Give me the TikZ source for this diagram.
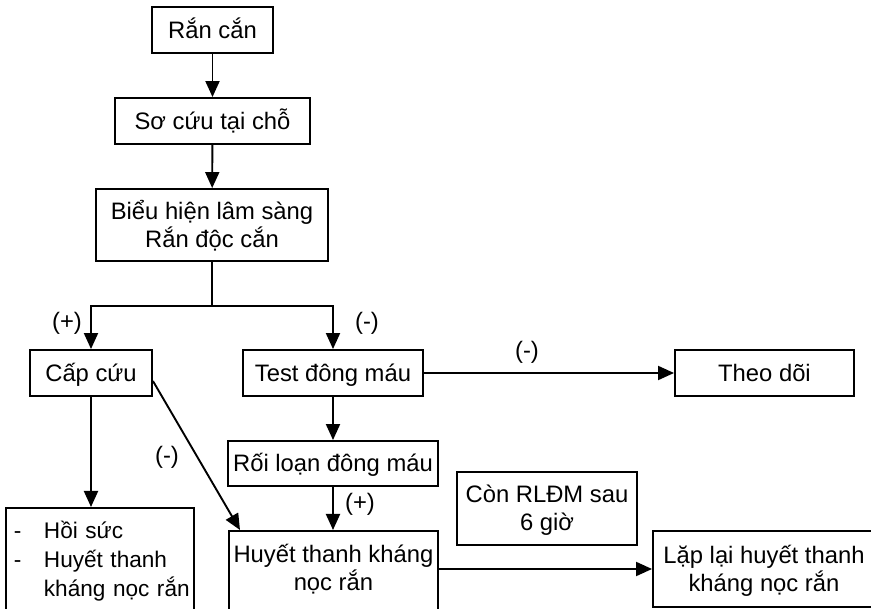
\documentclass[tikz,border=0pt]{standalone}
\usepackage{fontspec}
\setmainfont{Liberation Sans}
\usetikzlibrary{arrows.meta,calc}

\tikzset{
  every picture/.style={x=1pt,y=-1pt},
  box/.style={draw, line width=1.9pt, inner sep=0pt, align=center,
    font=\fontsize{23.8}{28}\selectfont, text height=17pt, text depth=0pt},
  twoline/.style={text height=45pt, text depth=0pt},
  lbl/.style={inner sep=0pt, font=\fontsize{23.8}{28}\selectfont},
  link/.style={line width=1.9pt},
  arr/.style={link, -{Triangle[length=16pt,width=14pt]}}
}

\begin{document}
\begin{tikzpicture}
\useasboundingbox (0,0) rectangle (871,609);
\clip (0,0) rectangle (871,609);

% main column
\node[box, minimum width=121pt, minimum height=46pt] (ran) at (212.5,30) {Rắn cắn};
\node[box, minimum width=195pt, minimum height=46pt] (so) at (212.5,121) {Sơ cứu tại chỗ};
\node[box, twoline, minimum width=232pt, minimum height=72pt] (bieu) at (212,225)
  {Biểu hiện lâm sàng\\Rắn độc cắn};

% second row
\node[box, minimum width=122pt, minimum height=46pt] (cap) at (91,373) {Cấp cứu};
\node[box, minimum width=180pt, minimum height=46pt] (test) at (333,373) {Test đông máu};
\node[box, minimum width=179pt, minimum height=46pt] (theo) at (764.5,373) {Theo dõi};

% lower rows
\node[box, minimum width=210pt, minimum height=45pt] (roi) at (333,463.5) {Rối loạn đông máu};
\node[box, twoline, minimum width=180pt, minimum height=73pt] (con) at (547,508.5)
  {Còn RLĐM sau\\6 giờ};
\node[box, twoline, minimum width=222pt, minimum height=76pt] (lap) at (764,569)
  {Lặp lại huyết thanh\\kháng nọc rắn};

% boxes running past the lower edge
\node[box, anchor=north west, inner xsep=0pt, inner ysep=15pt, minimum width=209pt,
  text height=45pt, text depth=40pt] (huyet) at (228,530)
  {Huyết thanh kháng\\nọc rắn};
\node[box, anchor=north west, align=left, inner xsep=4pt, inner ysep=14pt,
  text width=180pt, text height=17pt, text depth=90pt,
  font=\fontsize{22.6}{29}\selectfont] (hoi) at (5,507)
  {\mbox{\makebox[34pt][l]{\hspace*{4pt}-}Hồi sức}\\
   \mbox{\makebox[34pt][l]{\hspace*{4pt}-}Huyết thanh}\\
   \mbox{\hspace*{34pt}kháng nọc rắn}};

% connectors
\draw[arr] (ran) -- (so);
\draw[arr] (so) -- (bieu);
\draw[link] (bieu.south) -- ++(0,44) coordinate (split);
\draw[arr] (split) -| (cap.north);
\draw[arr] (split) -| (test.north);
\draw[arr] (test.east) -- (theo.west);
\draw[arr] (test) -- (roi);
\draw[arr] (roi.south) -- (roi.south |- huyet.north);
\draw[arr] (cap.south) -- (cap.south |- hoi.north);
\draw[arr] ([yshift=-8pt]cap.east) -- ([xshift=12pt]huyet.north west);
\draw[arr] (lap.west -| huyet.east) -- (lap.west);

% branch labels
\node[lbl] (lp1) at (67,323) {(+)};
\node[lbl] (lm1) at (367,323) {(-)};
\node[lbl] (lm2) at (167,457) {(-)};
\node[lbl] (lm3) at (527,352) {(-)};
\node[lbl] (lp2) at (360,504) {(+)};
\end{tikzpicture}
\end{document}
